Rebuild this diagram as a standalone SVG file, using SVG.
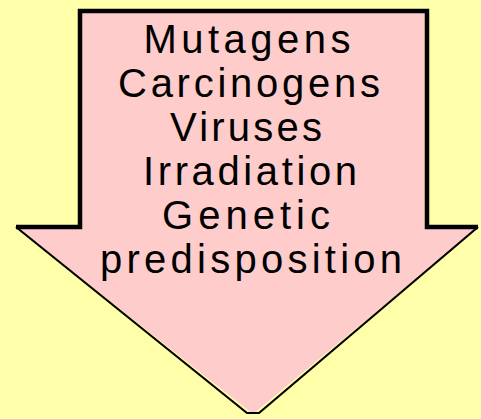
<svg xmlns="http://www.w3.org/2000/svg" width="481" height="419" viewBox="0 0 481 419">
<style>
.bg{fill:#ffffaa}
.body{fill:#ffcccc;stroke:none}
.shaft{fill:none;stroke:#000;stroke-width:4.5;stroke-linejoin:miter}
.head{fill:none;stroke:#000;stroke-width:2.2;stroke-linejoin:round}
.lbl{font-family:"Liberation Sans",Arial,sans-serif;font-size:40px;fill:#000;text-anchor:middle}
</style>
<rect class="bg" x="0" y="0" width="481" height="419"/>
<g id="arrow">
<polygon class="body" points="80,11 427,11 427,227 478,227 253,414 16,227 80,227"/>
<path class="shaft" d="M16,227 H80 V11 H427 V227 H478"/>
<path class="head" d="M16,227 L247,413 H259 L478,227"/>
</g>
<g id="labels">
<text class="lbl" x="247" y="53" textLength="207">Mutagens</text>
<text class="lbl" x="249" y="97" textLength="262">Carcinogens</text>
<text class="lbl" x="246" y="141" textLength="152">Viruses</text>
<text class="lbl" x="250" y="185" textLength="214">Irradiation</text>
<text class="lbl" x="246" y="229" textLength="168">Genetic</text>
<text class="lbl" x="251" y="273" textLength="302">predisposition</text>
</g>
</svg>
